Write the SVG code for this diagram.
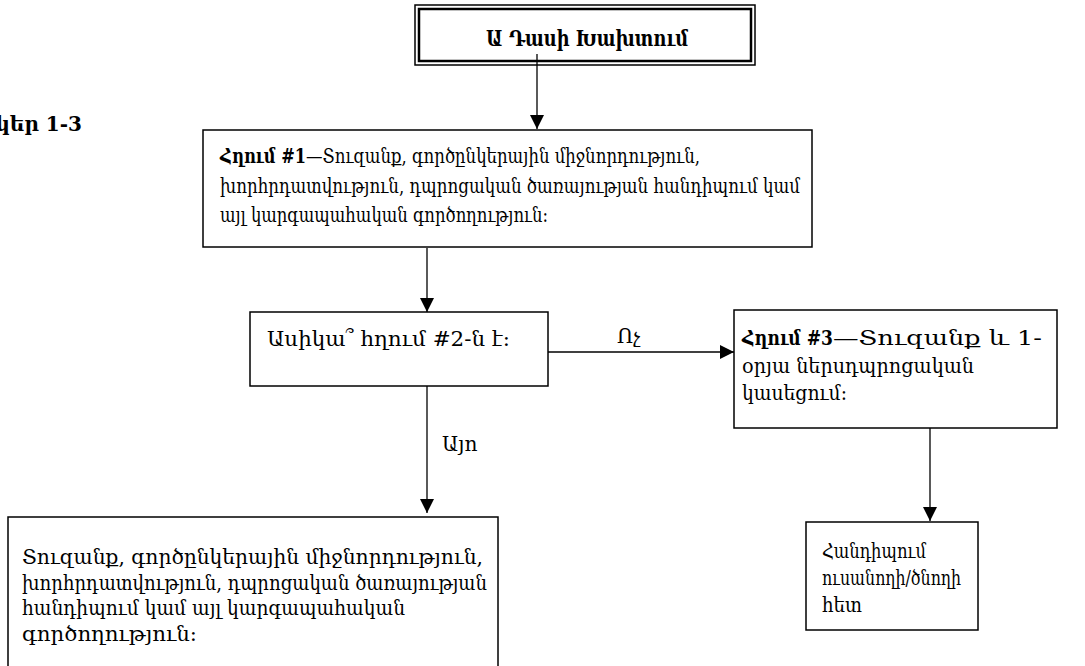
<svg xmlns="http://www.w3.org/2000/svg" width="1085" height="666" viewBox="0 0 1085 666">
<style>
.box{fill:#fff;stroke:#000;stroke-width:1.5}
.t{font-family:"DejaVu Serif","Noto Sans",serif;font-size:20px;fill:#000}
.b{font-weight:bold}
.ln{stroke:#000;stroke-width:1.3;fill:none}
</style>
<defs>
<marker id="ah" markerWidth="14" markerHeight="16" refX="14" refY="8" orient="auto" markerUnits="userSpaceOnUse">
<path d="M0,1 L14,8 L0,15 Z" fill="#000"/>
</marker>
</defs>
<rect width="1085" height="666" fill="#fff"/>
<text class="t b" x="82" y="131" text-anchor="end">Գծապատկեր 1-3</text>
<g id="title">
<rect x="415" y="5" width="340" height="60" fill="#fff" stroke="#000" stroke-width="1.5"/>
<rect x="419" y="9" width="332" height="52" fill="none" stroke="#000" stroke-width="2.5"/>
<text class="t b" x="486" y="46" textLength="202" lengthAdjust="spacingAndGlyphs" style="font-size:22px">Ա Դասի Խախտում</text>
</g>
<g id="connectors">
<line class="ln" x1="537" y1="54" x2="537" y2="129" marker-end="url(#ah)"/>
<line class="ln" x1="427" y1="248" x2="427" y2="312" marker-end="url(#ah)"/>
<line class="ln" x1="548" y1="352" x2="734" y2="352" marker-end="url(#ah)"/>
<line class="ln" x1="427" y1="386" x2="427" y2="513" marker-end="url(#ah)"/>
<line class="ln" x1="930" y1="428" x2="930" y2="521" marker-end="url(#ah)"/>
<text class="t" x="617" y="343">Ոչ</text>
<text class="t" x="442" y="451">Այո</text>
</g>
<g id="node1">
<rect class="box" x="203" y="130" width="609" height="117"/>
<text class="t" x="220" y="163"><tspan class="b" textLength="86" lengthAdjust="spacingAndGlyphs">Հղում #1</tspan><tspan textLength="394" lengthAdjust="spacingAndGlyphs">—Տուզանք, գործընկերային միջնորդություն,</tspan></text>
<text class="t" x="220" y="193" textLength="580" lengthAdjust="spacingAndGlyphs">խորհրդատվություն, դպրոցական ծառայության հանդիպում կամ</text>
<text class="t" x="220" y="222" textLength="328" lengthAdjust="spacingAndGlyphs">այլ կարգապահական գործողություն:</text>
</g>
<g id="node2">
<rect class="box" x="250" y="312" width="298" height="74"/>
<text class="t" x="267" y="346" textLength="243" lengthAdjust="spacingAndGlyphs">Ասիկա՞ հղում #2-ն է:</text>
</g>
<g id="node3">
<rect class="box" x="734" y="310" width="323" height="118"/>
<text class="t" x="742" y="345"><tspan class="b" textLength="91" lengthAdjust="spacingAndGlyphs">Հղում #3</tspan><tspan textLength="209" lengthAdjust="spacingAndGlyphs">—Տուզանք և 1-</tspan></text>
<text class="t" x="742" y="373" textLength="232" lengthAdjust="spacingAndGlyphs">օրյա ներսդպրոցական</text>
<text class="t" x="742" y="400" textLength="105" lengthAdjust="spacingAndGlyphs">կասեցում:</text>
</g>
<g id="node4">
<rect class="box" x="8" y="517" width="490" height="160"/>
<text class="t" x="22" y="564" textLength="461" lengthAdjust="spacingAndGlyphs">Տուզանք, գործընկերային միջնորդություն,</text>
<text class="t" x="22" y="590" textLength="465" lengthAdjust="spacingAndGlyphs">խորհրդատվություն, դպրոցական ծառայության</text>
<text class="t" x="22" y="615" textLength="383" lengthAdjust="spacingAndGlyphs">հանդիպում կամ այլ կարգապահական</text>
<text class="t" x="22" y="641" textLength="175" lengthAdjust="spacingAndGlyphs">գործողություն:</text>
</g>
<g id="node5">
<rect class="box" x="806" y="522" width="172" height="108"/>
<text class="t" x="822" y="558" textLength="104" lengthAdjust="spacingAndGlyphs">Հանդիպում</text>
<text class="t" x="822" y="585" textLength="139" lengthAdjust="spacingAndGlyphs">ուսանողի/ծնողի</text>
<text class="t" x="822" y="612" textLength="40" lengthAdjust="spacingAndGlyphs">հետ</text>
</g>
</svg>
